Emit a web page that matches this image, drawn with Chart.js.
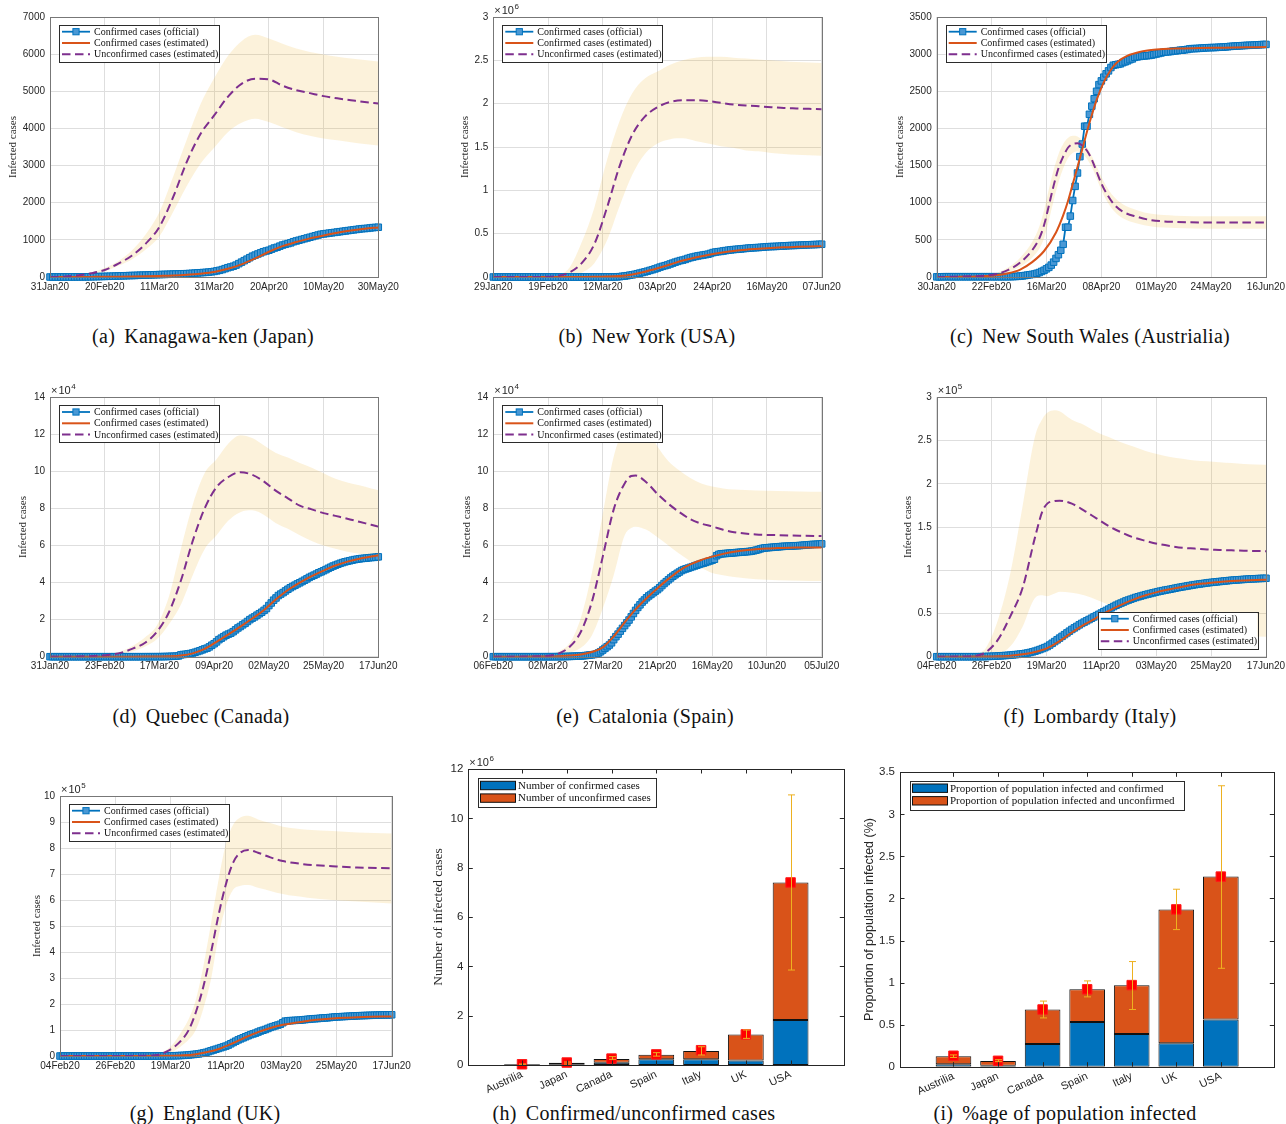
<!DOCTYPE html>
<html lang="en">
<head>
<meta charset="utf-8">
<title>COVID-19 confirmed and unconfirmed cases</title>
<script src="https://cdn.jsdelivr.net/npm/chart.js@4.4.1/dist/chart.umd.min.js"></script>
<style>
  html, body { margin: 0; padding: 0; background: #fff; }
  body { position: relative; width: 1286px; height: 1124px; overflow: hidden; }
  canvas { position: absolute; left: 0; top: 0; }
  .cap { position: absolute; transform: translate(-50%, -50%); white-space: nowrap;
         font: 20px "Liberation Serif", "Times New Roman", serif; color: #111; line-height: 1;
         letter-spacing: 0.3px; }
  .cap span { margin-right: 9px; }
</style>
</head>
<body>
<div class="cap" style="left:203px;top:336px"><span>(a)</span>Kanagawa-ken (Japan)</div>
<div class="cap" style="left:647px;top:336px"><span>(b)</span>New York (USA)</div>
<div class="cap" style="left:1090px;top:336px"><span>(c)</span>New South Wales (Austrialia)</div>
<div class="cap" style="left:201px;top:716px"><span>(d)</span>Quebec (Canada)</div>
<div class="cap" style="left:645px;top:716px"><span>(e)</span>Catalonia (Spain)</div>
<div class="cap" style="left:1090px;top:716px"><span>(f)</span>Lombardy (Italy)</div>
<div class="cap" style="left:205px;top:1113px"><span>(g)</span>England (UK)</div>
<div class="cap" style="left:634px;top:1113px"><span>(h)</span>Confirmed/unconfirmed cases</div>
<div class="cap" style="left:1065px;top:1113px"><span>(i)</span>%age of population infected</div>
<script>
// ---------- Kanagawa-ken (Japan): day 0 = 31 Jan 2020 ----------
const kanagawaTicks = ['31Jan20','20Feb20','11Mar20','31Mar20','20Apr20','10May20','30May20'];
const kanagawaOfficial = [
  0,0,0,0,0,1,1,1,2,2,3,3,3,4,5,6,8,10,12,14,
  16,18,20,22,25,28,30,32,35,38,40,42,45,48,50,52,55,58,60,62,
  65,68,70,72,75,78,80,82,85,88,90,95,100,105,110,115,120,125,132,140,
  150,165,180,200,225,250,270,290,320,360,400,440,480,520,560,590,620,650,680,700,
  720,750,780,800,830,860,880,900,920,950,970,990,1010,1030,1050,1070,1090,1110,1130,1150,
  1160,1170,1180,1190,1200,1210,1220,1230,1240,1250,1260,1270,1280,1290,1300,1305,1310,1320,1330,1335,1340];
const kanagawaDays = [0,5,10,15,20,25,30,35,40,45,50,55,60,65,70,75,80,85,90,95,100,105,110,115,120];
const kanagawaEst = [0,0,1,3,5,8,12,18,28,40,60,90,135,220,340,500,680,830,940,1040,1120,1190,1250,1300,1335];
const kanagawaUnc = [0,10,40,100,190,360,580,900,1350,2150,3100,3850,4350,4850,5200,5340,5320,5150,5030,4950,4870,4810,4760,4710,4670];
const kanagawaUncHigh = [0,15,50,120,240,430,720,1150,1750,2700,3700,4650,5350,5950,6350,6520,6420,6280,6150,6060,5990,5930,5880,5840,5800];
const kanagawaUncLow = [0,5,30,80,150,300,480,740,1100,1750,2450,3050,3480,3900,4150,4260,4170,4030,3900,3800,3730,3680,3630,3580,3540];

// ---------- New York (USA): day 0 = 29 Jan 2020, values in millions ----------
const newYorkTicks = ['29Jan20','19Feb20','12Mar20','03Apr20','24Apr20','16May20','07Jun20'];
const newYorkOfficial = [
  0,0,0,0,0,0,0,0,0,0,0,0,0,0,0,0,0,0,0,0,0,0,0,0,0,0,0,0,0,0,0,0,
  0,0,0,0,0,0,0,0,0,0,0,0,0,0.001,0.001,0.001,0.001,0.002,0.004,0.008,0.011,0.015,0.021,0.025,0.031,0.038,0.045,0.052,0.059,0.067,0.076,
  0.084,0.093,0.103,0.114,0.123,0.131,0.139,0.150,0.160,0.171,0.180,0.189,0.195,0.203,0.214,0.223,0.230,0.237,0.243,0.248,0.253,0.258,0.263,0.272,0.282,0.288,0.292,0.295,0.300,0.305,
  0.309,0.313,0.316,0.319,0.321,0.324,0.327,0.330,0.333,0.335,0.337,0.339,0.340,0.343,0.345,0.348,0.350,0.351,0.352,0.353,0.355,0.356,0.358,0.360,0.362,0.363,0.364,0.365,0.366,0.368,0.369,
  0.371,0.372,0.373,0.374,0.375,0.377,0.378];
const newYorkDays = [0,5,10,15,20,25,30,35,40,45,50,55,60,65,70,75,80,85,90,95,100,105,110,115,120,125,130];
const newYorkEst = [0,0,0,0,0,0,0.001,0.001,0.002,0.005,0.012,0.03,0.06,0.1,0.145,0.19,0.225,0.255,0.28,0.3,0.315,0.325,0.335,0.343,0.348,0.352,0.355];
const newYorkUnc = [0,0,0,0,0.002,0.01,0.05,0.16,0.38,0.8,1.28,1.64,1.85,1.96,2.02,2.04,2.04,2.03,2.01,1.99,1.98,1.97,1.96,1.95,1.945,1.94,1.935];
const newYorkUncHigh = [0,0,0,0,0.005,0.02,0.1,0.4,0.8,1.35,1.8,2.12,2.29,2.37,2.45,2.5,2.53,2.54,2.54,2.53,2.52,2.51,2.5,2.49,2.48,2.475,2.47];
const newYorkUncLow = [0,0,0,0,0,0.002,0.005,0.05,0.16,0.42,0.82,1.18,1.42,1.54,1.59,1.6,1.57,1.54,1.51,1.49,1.46,1.45,1.43,1.42,1.41,1.405,1.4];

// ---------- New South Wales (Australia): day 0 = 30 Jan 2020 ----------
const nswTicks = ['30Jan20','22Feb20','16Mar20','08Apr20','01May20','24May20','16Jun20'];
const nswOfficial = [
  2,2,3,4,4,4,4,4,4,4,
  4,4,4,4,4,4,4,4,4,4,4,4,4,4,4,4,4,4,4,4,4,
  5,6,7,9,12,15,20,25,30,35,40,50,60,75,90,110,130,160,200,250,300,360,440,
  670,670,820,1030,1220,1400,1620,1790,2030,2030,2190,2300,2400,2500,2590,2640,
  2690,2735,2775,2820,2850,2857,2863,2870,2886,2897,2910,2926,2936,2957,2963,2969,2974,2976,2979,2982,
  2987,2994,3002,3009,3016,3025,3030,3031,3035,3042,3044,3047,3053,3054,3059,3063,3071,3074,3075,3076,
  3078,3081,3083,3086,3087,3088,3089,3090,3092,3094,3095,3098,3100,3104,3106,3108,3110,3112,3114,3116,
  3118,3119,3120,3122,3124,3126,3128,3130,3131];
const nswEstDays = [0,5,10,15,20,25,30,35,40,45,50,53,55,57,59,61,63,65,67,70,73,76,80,85,90,95,100,110,120,130,138];
const nswEst = [0,1,2,5,12,25,50,100,200,350,600,830,1020,1250,1480,1720,1960,2180,2380,2620,2790,2900,2980,3030,3055,3068,3075,3082,3087,3092,3096];
const nswUncDays = [0,5,10,15,20,25,30,35,40,43,45,47,49,51,53,55,57,59,61,63,65,67,69,71,74,78,84,90,100,115,138];
const nswUnc = [0,2,5,10,18,40,95,195,360,520,700,960,1230,1460,1620,1740,1790,1800,1770,1700,1580,1420,1260,1135,990,880,810,765,742,733,732];
const nswUncHigh = [0,3,7,14,25,55,130,260,470,680,900,1180,1440,1650,1790,1870,1900,1890,1840,1750,1630,1490,1350,1230,1090,980,900,850,825,818,818];
const nswUncLow = [0,1,3,7,12,28,65,140,260,380,520,760,1030,1270,1460,1600,1670,1690,1660,1590,1480,1330,1170,1040,900,790,720,680,660,650,648];

// ---------- Quebec (Canada): day 0 = 31 Jan 2020, values in 10^4 ----------
const quebecTicks = ['31Jan20','23Feb20','17Mar20','09Apr20','02May20','25May20','17Jun20'];
const quebecOfficial = [
  0,0,0,0,0,0,0,0,0,0,0,0,0,0,0,0,0,0,0,0,0,0,0,0,0,0,0,0,0,0,0,
  0,0,0,0,0,0,0,0,0,0.001,0.001,0.001,0.002,0.002,
  0.002,0.003,0.005,0.007,0.01,0.014,0.02,0.022,0.03,0.04,0.1,0.12,0.13,0.15,0.17,0.2,0.24,0.28,0.32,0.37,
  0.42,0.46,0.53,0.62,0.7,0.8,0.92,1.0,1.08,1.16,1.22,1.27,1.35,1.45,1.55,1.63,1.72,1.8,1.9,2.0,
  2.08,2.15,2.24,2.32,2.4,2.5,2.6,2.76,2.9,3.05,3.17,3.3,3.38,3.46,3.55,3.64,3.72,3.79,3.86,3.93,
  3.99,4.06,4.13,4.2,4.28,4.34,4.4,4.46,4.53,4.58,4.64,4.7,4.77,4.83,4.89,4.94,4.99,5.04,5.08,5.12,
  5.15,5.18,5.21,5.24,5.26,5.28,5.3,5.31,5.32,5.34,5.35,5.36,5.37,5.39];
const quebecDays = [0,5,10,15,20,25,30,35,40,45,50,55,60,65,70,75,80,85,90,95,100,105,110,115,120,125,130,135,138];
const quebecEst = [0,0,0,0,0,0,0.001,0.002,0.005,0.01,0.02,0.06,0.18,0.42,0.8,1.2,1.62,2.06,2.52,3.1,3.6,4.0,4.35,4.65,4.92,5.13,5.29,5.41,5.47];
const quebecUnc = [0,0,0.01,0.02,0.05,0.11,0.22,0.45,0.75,1.35,2.4,4.1,6.25,8.0,9.15,9.7,9.96,9.82,9.45,8.95,8.55,8.15,7.95,7.75,7.6,7.45,7.28,7.12,7.02];
const quebecUncHigh = [0,0,0.01,0.03,0.07,0.15,0.3,0.6,1.05,1.7,3.25,5.8,8.2,9.9,10.65,11.5,11.95,11.8,11.4,11.0,10.75,10.45,10.2,9.9,9.6,9.4,9.25,9.08,8.99];
const quebecUncLow = [0,0,0.005,0.01,0.03,0.07,0.15,0.3,0.55,0.95,1.75,2.8,4.4,5.8,6.55,7.35,7.8,7.9,7.65,7.2,6.9,6.55,6.25,6.0,5.82,5.66,5.55,5.45,5.4];

// ---------- Catalonia (Spain): day 0 = 6 Feb 2020, values in 10^4 ----------
const cataloniaTicks = ['06Feb20','02Mar20','27Mar20','21Apr20','16May20','10Jun20','05Jul20'];
const cataloniaOfficial = [
  0,0,0,0,0,0,0,0,0,0,0,0,0,0,0,0,0,0,0,0,0,0,0,0,
  0,0.001,0.001,0.002,0.002,0.003,0.004,0.005,0.007,0.01,0.013,0.016,0.02,0.025,0.03,0.035,0.04,0.05,0.06,0.075,0.09,0.1,0.12,0.14,
  0.2,0.27,0.36,0.45,0.54,0.63,0.75,0.92,1.08,1.22,1.38,1.53,1.68,1.83,1.98,2.15,2.33,2.5,2.66,2.8,
  2.95,3.06,3.18,3.28,3.36,3.45,3.54,3.62,3.72,3.84,3.95,4.05,4.15,4.25,4.34,4.42,4.5,4.57,4.65,4.7,
  4.74,4.78,4.82,4.86,4.9,4.94,4.98,5.02,5.05,5.09,5.13,5.17,5.21,5.26,5.45,5.52,5.55,5.56,5.57,5.58,
  5.59,5.6,5.61,5.62,5.63,5.64,5.65,5.66,5.67,5.68,5.7,5.72,5.75,5.78,5.82,5.85,5.87,5.88,5.89,5.9,
  5.91,5.92,5.93,5.94,5.95,5.96,5.96,5.97,5.97,5.98,5.99,5.99,6.0,6.01,6.02,6.03,6.04,6.05,6.06,6.06,
  6.07,6.08,6.09];
const cataloniaEstDays = [0,5,10,15,20,25,30,35,40,45,50,55,60,65,70,75,80,85,90,95,100,105,110,115,120,125,130,135,140,145,150];
const cataloniaEst = [0,0,0,0,0.01,0.015,0.03,0.06,0.12,0.25,0.5,1.1,1.85,2.55,3.15,3.7,4.2,4.65,4.98,5.22,5.4,5.55,5.66,5.74,5.8,5.84,5.86,5.88,5.89,5.9,5.9];
const cataloniaUncDays = [0,5,10,15,20,25,30,35,40,45,50,55,60,63,65,70,75,80,85,90,95,100,105,110,120,130,140,150];
const cataloniaUnc = [0,0,0,0.01,0.02,0.05,0.18,0.55,1.35,2.95,5.4,7.95,9.35,9.75,9.78,9.4,8.78,8.25,7.8,7.42,7.18,7.03,6.85,6.72,6.6,6.56,6.53,6.51];
const cataloniaUncHigh = [0,0,0.01,0.02,0.04,0.1,0.3,0.75,2.1,4.5,7.7,10.8,12.4,12.8,12.8,12.3,11.35,10.55,10.05,9.65,9.35,9.18,9.08,9.02,8.97,8.94,8.92,8.9];
const cataloniaUncLow = [0,0,0,0,0.01,0.02,0.08,0.22,0.48,1.15,2.6,4.4,6.55,6.95,7.02,6.85,6.45,6.0,5.55,5.15,4.8,4.52,4.4,4.3,4.18,4.13,4.1,4.08];

// ---------- Lombardy (Italy): day 0 = 4 Feb 2020, values in 10^5 ----------
const lombardyTicks = ['04Feb20','26Feb20','19Mar20','11Apr20','03May20','25May20','17Jun20'];
const lombardyOfficial = [
  0,0,0,0,0,0,0,0,0,0,0,0,0,0,0,0,0,0,
  0.001,0.001,0.002,0.003,0.004,0.005,0.006,0.008,0.01,0.012,
  0.014,0.016,0.018,0.021,0.024,0.027,0.03,0.034,0.038,0.043,
  0.049,0.056,0.064,0.073,0.083,0.094,0.105,0.118,0.135,0.155,
  0.175,0.195,0.215,0.235,0.255,0.275,0.295,0.315,0.333,0.35,
  0.368,0.385,0.4,0.415,0.43,0.445,0.46,0.475,0.49,0.505,
  0.52,0.535,0.55,0.565,0.58,0.595,0.608,0.62,0.632,0.645,
  0.655,0.665,0.675,0.685,0.693,0.701,0.709,0.717,0.724,0.731,
  0.738,0.745,0.752,0.758,0.764,0.77,0.775,0.78,0.786,0.792,
  0.798,0.803,0.808,0.813,0.818,0.823,0.828,0.833,0.837,0.841,
  0.845,0.849,0.853,0.857,0.86,0.863,0.866,0.869,0.872,0.875,
  0.878,0.881,0.884,0.886,0.888,0.89,0.892,0.894,0.896,0.898,
  0.9,0.901,0.902,0.904,0.905,0.906,0.907];
const lombardyEstDays = [0,5,10,15,20,25,30,35,40,45,50,55,60,65,70,75,80,85,90,95,100,105,110,115,120,125,130,134];
const lombardyEst = [0,0,0,0.001,0.002,0.005,0.012,0.028,0.055,0.1,0.18,0.28,0.37,0.45,0.53,0.6,0.66,0.71,0.75,0.78,0.81,0.835,0.85,0.865,0.875,0.882,0.887,0.89];
const lombardyUncDays = [0,5,10,15,18,20,25,30,35,40,43,45,48,50,55,60,65,70,75,80,85,90,95,100,105,110,115,120,125,134];
const lombardyUnc = [0,0,0.002,0.008,0.025,0.05,0.2,0.47,0.8,1.38,1.68,1.77,1.8,1.805,1.77,1.69,1.6,1.51,1.44,1.38,1.34,1.305,1.28,1.26,1.25,1.24,1.235,1.23,1.225,1.22];
const lombardyUncHigh = [0,0,0.005,0.02,0.05,0.1,0.43,0.97,1.75,2.55,2.75,2.82,2.85,2.84,2.74,2.68,2.6,2.54,2.48,2.43,2.38,2.34,2.31,2.29,2.27,2.26,2.25,2.24,2.23,2.22];
const lombardyUncLow = [0,0,0,0.002,0.005,0.008,0.03,0.12,0.35,0.68,0.71,0.7,0.73,0.75,0.74,0.71,0.66,0.6,0.53,0.47,0.4,0.35,0.32,0.3,0.28,0.26,0.25,0.245,0.24,0.23];

// ---------- England (UK): day 0 = 4 Feb 2020, values in 10^5 ----------
const englandTicks = ['04Feb20','26Feb20','19Mar20','11Apr20','03May20','25May20','17Jun20'];
const englandOfficial = [
  0,0,0,0,0,0,0,0,0,0,0,0,0,0,0,0,0,0,0,0,0,0,0,0,0,0,0,0,0,0,0,0,0,0,0,0,0,0,0,0,
  0.002,0.003,0.004,0.005,0.006,0.008,0.01,0.012,0.015,0.02,
  0.025,0.03,0.04,0.05,0.06,0.07,0.08,0.1,0.12,0.14,
  0.17,0.2,0.23,0.26,0.29,0.32,0.35,0.38,0.42,0.47,
  0.52,0.57,0.62,0.66,0.7,0.74,0.78,0.82,0.85,0.88,
  0.92,0.96,0.99,1.02,1.06,1.1,1.13,1.16,1.19,1.22,
  1.28,1.34,1.35,1.36,1.365,1.37,1.375,1.38,1.39,1.4,
  1.41,1.42,1.43,1.435,1.44,1.45,1.46,1.465,1.47,1.48,
  1.49,1.5,1.505,1.51,1.515,1.52,1.525,1.53,1.535,1.54,
  1.545,1.55,1.553,1.556,1.56,1.563,1.566,1.569,1.572,1.575,
  1.578,1.58,1.582,1.584,1.586];
const englandEstDays = [0,10,20,30,40,45,50,55,60,65,70,75,80,85,90,95,100,105,110,115,120,125,130,134];
const englandEst = [0,0,0,0.002,0.005,0.01,0.025,0.07,0.16,0.3,0.5,0.72,0.92,1.08,1.2,1.28,1.35,1.4,1.44,1.47,1.49,1.505,1.515,1.52];
const englandUncDays = [0,10,20,30,35,40,43,46,49,52,55,58,61,64,67,70,73,76,80,85,90,95,100,110,120,134];
const englandUnc = [0,0,0,0.005,0.01,0.05,0.17,0.34,0.6,1.0,1.72,2.7,3.98,5.4,6.6,7.45,7.83,7.92,7.82,7.64,7.5,7.42,7.36,7.3,7.25,7.22];
const englandUncHigh = [0,0,0,0.01,0.03,0.1,0.23,0.5,0.92,1.42,2.2,3.5,5.1,6.75,8.15,8.9,9.18,9.24,9.1,8.96,8.82,8.75,8.7,8.65,8.6,8.56];
const englandUncLow = [0,0,0,0,0.005,0.03,0.08,0.18,0.38,0.63,1.03,1.85,2.95,4.6,5.75,6.4,6.55,6.58,6.47,6.35,6.23,6.15,6.09,6.0,5.94,5.87];

// ---------- Country summaries ----------
const countries = ['Austrilia','Japan','Canada','Spain','Italy','UK','USA'];
// number of infected cases, in millions
const casesConfirmed   = [0.003, 0.012, 0.095, 0.23, 0.23, 0.18, 1.82];
const casesUnconfirmed = [0.027, 0.083, 0.145, 0.19, 0.34, 1.06, 5.58];
const casesEstimate    = [0.03, 0.1, 0.26, 0.43, 0.6, 1.24, 7.4];
const casesLow         = [0.0, 0.04, 0.23, 0.36, 0.405, 1.08, 3.85];
const casesHigh        = [0.04, 0.12, 0.34, 0.5, 0.74, 1.42, 10.95];
// share of population infected, in percent
const shareConfirmed   = [0.03, 0.01, 0.27, 0.53, 0.39, 0.28, 0.56];
const shareUnconfirmed = [0.095, 0.057, 0.41, 0.39, 0.577, 1.59, 1.7];
const shareEstimate    = [0.13, 0.07, 0.68, 0.92, 0.97, 1.87, 2.26];
const shareLow         = [0.11, 0.06, 0.58, 0.83, 0.68, 1.63, 1.17];
const shareHigh        = [0.14, 0.083, 0.78, 1.02, 1.25, 2.11, 3.34];

// ---------- drawing ----------
const W = 1286, H = 1124;
const BLUE = '#0072BD', BLUE_FACE = '#4a98d4', ORANGE = '#D95319', PURPLE = '#7E2F8E';
const BAND = 'rgba(237,177,32,0.16)', ERR = '#EDB120', GRID = '#dedede', INK = '#262626';
const SANS = '"Liberation Sans", Arial, Helvetica, sans-serif';
const SERIF = '"Liberation Serif", "Times New Roman", serif';

// page rectangles for each axes box: [left, top, right, bottom], y-title centre
const GEOM = {
  a: {plot: [50, 17, 378.3, 277], titleX: 13.3},
  b: {plot: [493.3, 17, 821.7, 277], titleX: 465},
  c: {plot: [936.7, 17, 1266, 277], titleX: 900},
  d: {plot: [50, 397.3, 378.3, 656.7], titleX: 23.3},
  e: {plot: [493.3, 397.3, 821.7, 656.7], titleX: 467.3},
  f: {plot: [936.7, 397.3, 1266, 656.7], titleX: 908.3},
  g: {plot: [60, 796, 391.7, 1056], titleX: 36.7},
  h: {plot: [468.3, 769, 844.3, 1065], titleX: 438.3},
  i: {plot: [900, 772.3, 1274.3, 1066.7], titleX: 869.3}
};

function mountCanvas() {
  const c = document.createElement('canvas');
  c.width = W; c.height = H;
  c.style.width = W + 'px'; c.style.height = H + 'px';
  document.body.appendChild(c);
  return c;
}

const framePlugin = color => ({
  id: 'frame',
  afterDraw(chart) {
    const {ctx, chartArea: a} = chart;
    ctx.save();
    ctx.strokeStyle = color; ctx.lineWidth = 1;
    ctx.strokeRect(Math.round(a.left) + 0.5, Math.round(a.top) + 0.5,
                   Math.round(a.right) - Math.round(a.left), Math.round(a.bottom) - Math.round(a.top));
    ctx.restore();
  }
});

const exponentPlugin = exp => ({
  id: 'exponent',
  afterDraw(chart) {
    if (exp == null) return;
    const {ctx, chartArea: a} = chart;
    ctx.save();
    ctx.fillStyle = INK;
    ctx.textBaseline = 'alphabetic';
    ctx.font = '11px ' + SANS;
    const x = a.left + 1, y = a.top - 3;
    ctx.fillText('\u00d7', x, y);
    const w1 = ctx.measureText('\u00d7').width + 1;
    ctx.fillText('10', x + w1, y);
    const w2 = ctx.measureText('10').width;
    ctx.font = '8px ' + SANS;
    ctx.fillText(String(exp), x + w1 + w2 + 0.5, y - 5);
    ctx.restore();
  }
});

const lineLegendPlugin = corner => ({
  id: 'lineLegend',
  afterDraw(chart) {
    const {ctx, chartArea: a} = chart;
    const ds = chart.data.datasets;
    const rows = [ds[2], ds[1], ds[0]];
    const w = 159.5, h = 37;
    const x = corner === 'br' ? a.right - 8.7 - w : a.left + 9;
    const y = corner === 'br' ? a.bottom - 7.7 - h : a.top + 8;
    ctx.save();
    ctx.fillStyle = '#fff'; ctx.fillRect(x, y, w, h);
    ctx.strokeStyle = '#2b2b2b'; ctx.lineWidth = 1;
    ctx.strokeRect(Math.round(x) + 0.5, Math.round(y) + 0.5, Math.round(w), Math.round(h));
    ctx.font = '10px ' + SERIF;
    ctx.textBaseline = 'middle';
    rows.forEach((d, i) => {
      const ry = y + 6.7 + i * 11.3;
      ctx.beginPath();
      ctx.setLineDash(d.borderDash || []);
      ctx.strokeStyle = d.borderColor; ctx.lineWidth = d.borderWidth;
      ctx.moveTo(x + 3, ry); ctx.lineTo(x + 31, ry); ctx.stroke();
      ctx.setLineDash([]);
      if (d.pointStyle === 'rect') {
        const sz = 6.2;
        ctx.fillStyle = d.pointBackgroundColor;
        ctx.fillRect(x + 17 - sz / 2, ry - sz / 2, sz, sz);
        ctx.strokeStyle = d.pointBorderColor; ctx.lineWidth = 1;
        ctx.strokeRect(x + 17 - sz / 2, ry - sz / 2, sz, sz);
      }
      ctx.fillStyle = '#111';
      ctx.fillText(d.label, x + 35, ry + 0.5);
    });
    ctx.restore();
  }
});

const barLegendPlugin = box => ({
  id: 'barLegend',
  afterDraw(chart) {
    const {ctx, chartArea: a} = chart;
    const ds = chart.data.datasets;
    const x = a.left + box.dx, y = a.top + box.dy;
    ctx.save();
    ctx.fillStyle = '#fff'; ctx.fillRect(x, y, box.w, box.h);
    ctx.strokeStyle = '#2b2b2b'; ctx.lineWidth = 1;
    ctx.strokeRect(Math.round(x) + 0.5, Math.round(y) + 0.5, Math.round(box.w), Math.round(box.h));
    ctx.font = '11px ' + SERIF;
    ctx.textBaseline = 'middle';
    [ds[1], ds[2]].forEach((d, i) => {
      const ry = y + 7.5 + i * 12.6;
      ctx.fillStyle = d.backgroundColor;
      ctx.fillRect(x + 2.5, ry - 4.2, 35, 8.4);
      ctx.strokeStyle = '#111'; ctx.lineWidth = 1;
      ctx.strokeRect(x + 2.5, ry - 4.2, 35, 8.4);
      ctx.fillStyle = '#111';
      ctx.fillText(d.label, x + 40, ry + 0.5);
    });
    ctx.restore();
  }
});

const errorBarPlugin = (low, high) => ({
  id: 'errorBars',
  afterDatasetsDraw(chart) {
    const {ctx, scales: {x, y}} = chart;
    ctx.save();
    ctx.strokeStyle = ERR; ctx.lineWidth = 1;
    low.forEach((lo, i) => {
      const px = Math.round(x.getPixelForValue(i + 1)) + 0.5;
      const p1 = y.getPixelForValue(lo), p2 = y.getPixelForValue(high[i]);
      ctx.beginPath();
      ctx.moveTo(px, p1); ctx.lineTo(px, p2);
      ctx.moveTo(px - 3.5, p1); ctx.lineTo(px + 3.5, p1);
      ctx.moveTo(px - 3.5, p2); ctx.lineTo(px + 3.5, p2);
      ctx.stroke();
    });
    ctx.restore();
  }
});

const innerTicksPlugin = {
  id: 'innerTicks',
  afterDraw(chart) {
    const {ctx, chartArea: a, scales: {x, y}} = chart;
    ctx.save();
    ctx.strokeStyle = INK; ctx.lineWidth = 1;
    ctx.beginPath();
    y.ticks.forEach(t => {
      const py = Math.round(y.getPixelForValue(t.value)) + 0.5;
      ctx.moveTo(a.left, py); ctx.lineTo(a.left + 4.5, py);
      ctx.moveTo(a.right, py); ctx.lineTo(a.right - 4.5, py);
    });
    x.ticks.forEach(t => {
      const px = Math.round(x.getPixelForValue(t.value)) + 0.5;
      ctx.moveTo(px, a.bottom); ctx.lineTo(px, a.bottom - 4.5);
      ctx.moveTo(px, a.top); ctx.lineTo(px, a.top + 4.5);
    });
    ctx.stroke();
    ctx.restore();
  }
};

function linePanel(g, s) {
  const [L, T, R, B] = g.plot;
  const titleSize = 11, xAxisH = 26;
  const padLeft = g.titleX - titleSize * 0.6;
  const N = s.official.length - 1;
  const tickVals = s.ticks.map((_, i) => N * i / (s.ticks.length - 1));
  const xy = (xs, ys) => ys.map((y, i) => ({x: xs[i], y}));
  const daily = ys => ys.map((y, i) => ({x: i, y}));
  const smooth = {pointRadius: 0, cubicInterpolationMode: 'monotone'};
  new Chart(mountCanvas(), {
    type: 'line',
    data: {datasets: [
      {label: 'Unconfirmed cases (estimated)', data: xy(s.uncDays, s.unc), borderColor: PURPLE,
       borderWidth: 2, borderDash: [8.5, 4.5], fill: false, ...smooth},
      {label: 'Confirmed cases (estimated)', data: xy(s.estDays, s.est), borderColor: ORANGE,
       borderWidth: 2, fill: false, ...smooth},
      {label: 'Confirmed cases (official)', data: daily(s.official), borderColor: BLUE, borderWidth: 1.8,
       pointStyle: 'rect', pointRadius: 4.6, pointBorderColor: BLUE, pointBackgroundColor: BLUE_FACE,
       pointBorderWidth: 1, fill: false, clip: false},
      {label: 'upper bound', data: xy(s.uncDays, s.high), borderWidth: 0, borderColor: 'rgba(0,0,0,0)',
       backgroundColor: BAND, fill: '+1', ...smooth},
      {label: 'lower bound', data: xy(s.uncDays, s.low), borderWidth: 0, borderColor: 'rgba(0,0,0,0)',
       fill: false, ...smooth}
    ]},
    options: {
      responsive: false, animation: false, devicePixelRatio: 1, events: [],
      layout: {padding: {left: padLeft, top: T, right: W - R, bottom: H - B - xAxisH}},
      plugins: {legend: {display: false}, tooltip: {enabled: false}},
      scales: {
        x: {
          type: 'linear', min: 0, max: N, offset: false,
          afterBuildTicks: sc => { sc.ticks = tickVals.map(v => ({value: v})); },
          afterFit: sc => { sc.height = xAxisH; sc.paddingLeft = 0; sc.paddingRight = 0; },
          ticks: {autoSkip: false, maxRotation: 0, minRotation: 0, padding: 4, color: INK,
                  font: {family: SANS, size: 10}, callback: (v, i) => s.ticks[i]},
          grid: {color: GRID, drawTicks: false}, border: {display: false}
        },
        y: {
          min: 0, max: s.yMax,
          afterFit: sc => { sc.width = L - padLeft; },
          ticks: {stepSize: s.yStep, padding: 5, color: INK, font: {family: SANS, size: 10},
                  callback: v => String(v)},
          grid: {color: GRID, drawTicks: false}, border: {display: false},
          title: {display: true, text: 'Infected cases', color: INK, padding: 0,
                  font: {family: SERIF, size: titleSize}}
        }
      }
    },
    plugins: [framePlugin('#777'), exponentPlugin(s.exp), lineLegendPlugin(s.legend)]
  });
}

function barPanel(g, s) {
  const [L, T, R, B] = g.plot;
  const xAxisH = 40;
  const padLeft = g.titleX - s.titleFont.size * 0.6;
  const pos = countries.map((_, i) => i + 1);
  const xy = ys => ys.map((y, i) => ({x: pos[i], y}));
  const barStyle = {borderColor: '#111', borderWidth: 1, borderSkipped: false, barPercentage: 0.8, categoryPercentage: 1};
  new Chart(mountCanvas(), {
    type: 'bar',
    data: {datasets: [
      {type: 'line', label: 'Estimated total', data: xy(s.estimate), showLine: false, pointStyle: 'rect',
       pointRadius: 6.7, pointBackgroundColor: '#ff0000', pointBorderColor: '#ff1a1a', pointBorderWidth: 1,
       borderWidth: 0, clip: false},
      {label: s.legend[0], data: xy(s.confirmed), backgroundColor: BLUE, ...barStyle},
      {label: s.legend[1], data: xy(s.unconfirmed), backgroundColor: ORANGE, ...barStyle}
    ]},
    options: {
      responsive: false, animation: false, devicePixelRatio: 1, events: [],
      layout: {padding: {left: padLeft, top: T, right: W - R, bottom: H - B - xAxisH}},
      plugins: {legend: {display: false}, tooltip: {enabled: false}},
      scales: {
        x: {
          type: 'linear', stacked: true, min: -0.2, max: 8.2, offset: false,
          afterBuildTicks: sc => { sc.ticks = pos.map(v => ({value: v})); },
          afterFit: sc => { sc.height = xAxisH; sc.paddingLeft = 0; sc.paddingRight = 0; },
          ticks: {autoSkip: false, minRotation: 25, maxRotation: 25, padding: 3, color: INK,
                  font: {family: SANS, size: 11}, callback: (v, i) => countries[i]},
          grid: {display: false, drawTicks: false, offset: false}, border: {display: false}
        },
        y: {
          stacked: true, min: 0, max: s.yMax,
          afterFit: sc => { sc.width = L - padLeft; },
          ticks: {stepSize: s.yStep, padding: 5, color: INK, font: {family: SANS, size: 11.5},
                  callback: v => String(v)},
          grid: {display: false, drawTicks: false}, border: {display: false},
          title: {display: true, text: s.yTitle, color: INK, padding: 0, font: s.titleFont}
        }
      }
    },
    plugins: [errorBarPlugin(s.low, s.high), framePlugin(INK), innerTicksPlugin,
              exponentPlugin(s.exp), barLegendPlugin(s.legendBox)]
  });
}

linePanel(GEOM.a, {ticks: kanagawaTicks, official: kanagawaOfficial, estDays: kanagawaDays, est: kanagawaEst,
  uncDays: kanagawaDays, unc: kanagawaUnc, high: kanagawaUncHigh, low: kanagawaUncLow,
  yMax: 7000, yStep: 1000, exp: null, legend: 'tl'});
linePanel(GEOM.b, {ticks: newYorkTicks, official: newYorkOfficial, estDays: newYorkDays, est: newYorkEst,
  uncDays: newYorkDays, unc: newYorkUnc, high: newYorkUncHigh, low: newYorkUncLow,
  yMax: 3, yStep: 0.5, exp: 6, legend: 'tl'});
linePanel(GEOM.c, {ticks: nswTicks, official: nswOfficial, estDays: nswEstDays, est: nswEst,
  uncDays: nswUncDays, unc: nswUnc, high: nswUncHigh, low: nswUncLow,
  yMax: 3500, yStep: 500, exp: null, legend: 'tl'});
linePanel(GEOM.d, {ticks: quebecTicks, official: quebecOfficial, estDays: quebecDays, est: quebecEst,
  uncDays: quebecDays, unc: quebecUnc, high: quebecUncHigh, low: quebecUncLow,
  yMax: 14, yStep: 2, exp: 4, legend: 'tl'});
linePanel(GEOM.e, {ticks: cataloniaTicks, official: cataloniaOfficial, estDays: cataloniaEstDays, est: cataloniaEst,
  uncDays: cataloniaUncDays, unc: cataloniaUnc, high: cataloniaUncHigh, low: cataloniaUncLow,
  yMax: 14, yStep: 2, exp: 4, legend: 'tl'});
linePanel(GEOM.f, {ticks: lombardyTicks, official: lombardyOfficial, estDays: lombardyEstDays, est: lombardyEst,
  uncDays: lombardyUncDays, unc: lombardyUnc, high: lombardyUncHigh, low: lombardyUncLow,
  yMax: 3, yStep: 0.5, exp: 5, legend: 'br'});
linePanel(GEOM.g, {ticks: englandTicks, official: englandOfficial, estDays: englandEstDays, est: englandEst,
  uncDays: englandUncDays, unc: englandUnc, high: englandUncHigh, low: englandUncLow,
  yMax: 10, yStep: 1, exp: 5, legend: 'tl'});

barPanel(GEOM.h, {confirmed: casesConfirmed, unconfirmed: casesUnconfirmed, estimate: casesEstimate,
  low: casesLow, high: casesHigh, yMax: 12, yStep: 2, exp: 6,
  yTitle: 'Number of infected cases', titleFont: {family: SERIF, size: 13.5},
  legend: ['Number of confirmed cases', 'Number of unconfirmed cases'],
  legendBox: {dx: 9.7, dy: 9, w: 178, h: 29}});
barPanel(GEOM.i, {confirmed: shareConfirmed, unconfirmed: shareUnconfirmed, estimate: shareEstimate,
  low: shareLow, high: shareHigh, yMax: 3.5, yStep: 0.5, exp: null,
  yTitle: 'Proportion of population infected (%)', titleFont: {family: SANS, size: 12.5},
  legend: ['Proportion of population infected and confirmed', 'Proportion of population infected and unconfirmed'],
  legendBox: {dx: 10, dy: 8.4, w: 274, h: 28.6}});
</script>
</body>
</html>
